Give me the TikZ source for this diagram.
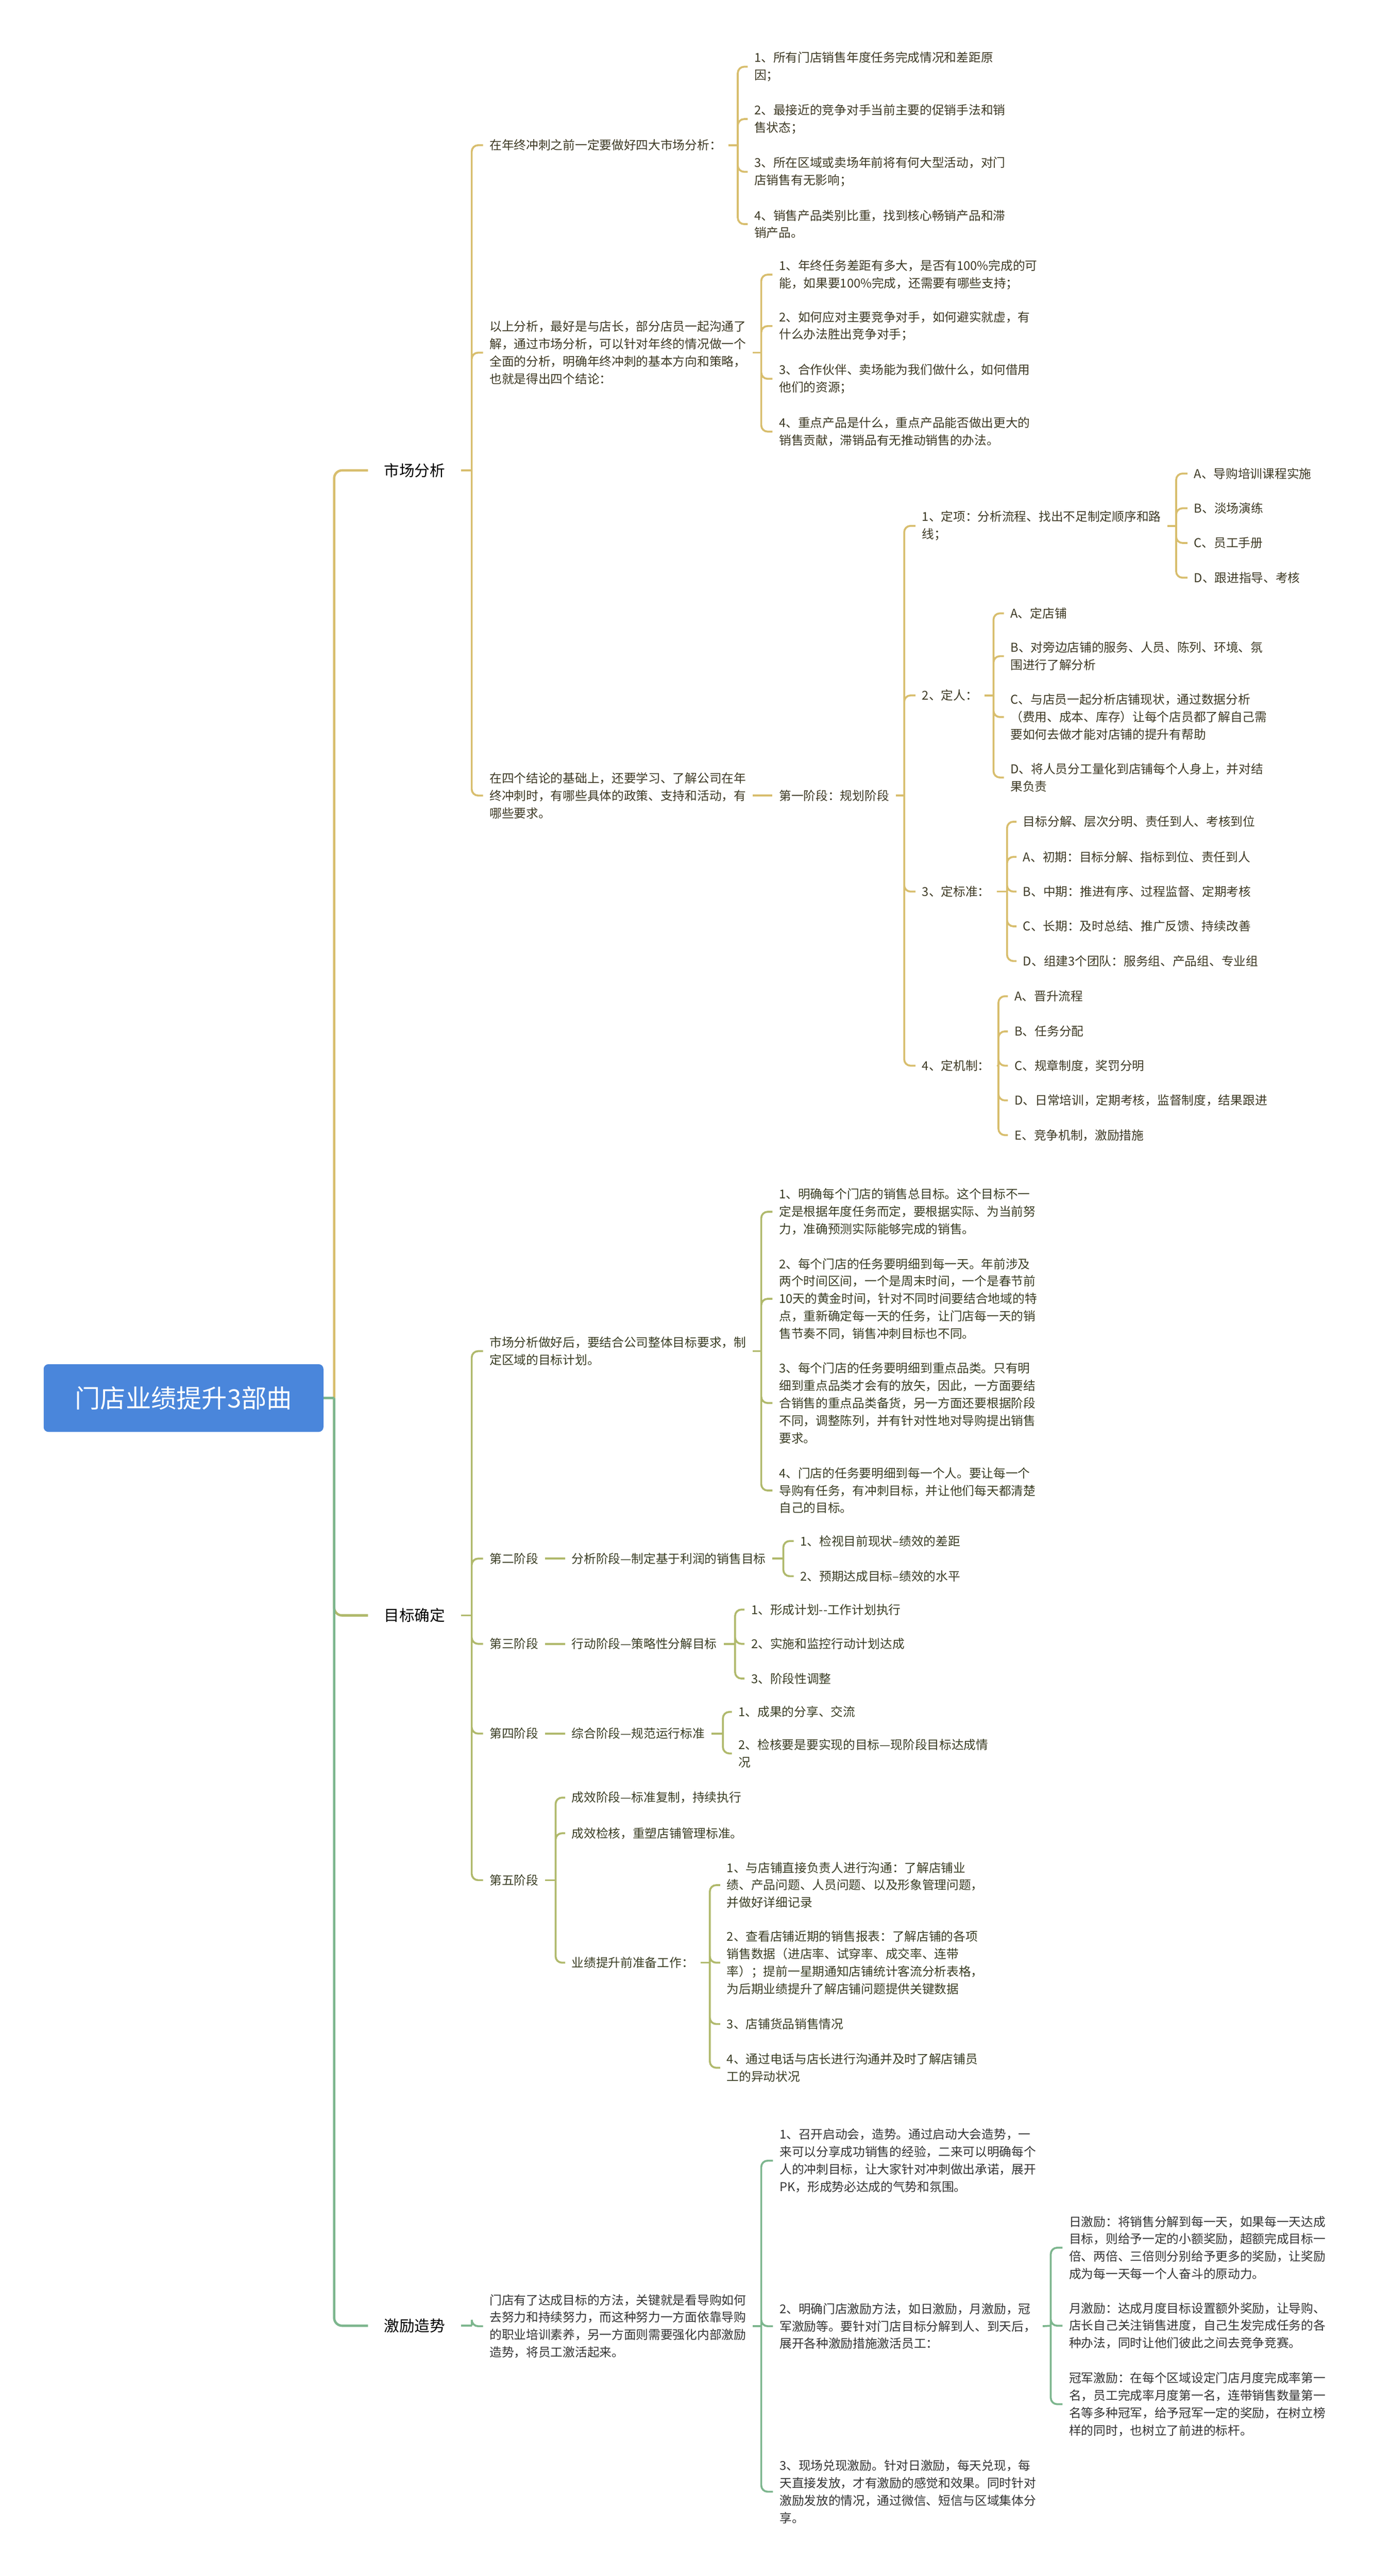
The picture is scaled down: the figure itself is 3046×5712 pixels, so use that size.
\documentclass[tikz,border=0pt]{standalone}
\usepackage{fontspec}
\setmainfont{Noto Sans CJK SC}
\definecolor{rootblue}{HTML}{4A86DB}
\definecolor{cgold}{HTML}{D8BE6E}
\definecolor{colive}{HTML}{B0B96C}
\definecolor{cgreen}{HTML}{7DB68E}
\definecolor{tgold}{HTML}{3D3924}
\definecolor{tolive}{HTML}{3A3D24}
\definecolor{tgreen}{HTML}{333333}
\tikzset{
  rootnode/.style={fill=rootblue, text=white, rounded corners=3pt, minimum width=6.2cm, minimum height=1.5cm, font=\fontsize{16}{19}\selectfont},
  branch/.style={anchor=west, inner xsep=10pt, text=black, font=\fontsize{9.6}{12}\selectfont},
  topic/.style={anchor=west, align=left, inner xsep=4pt, inner ysep=1pt, font=\fontsize{7.7}{11}\selectfont},
  goldtopic/.style={topic, text=tgold},
  olivetopic/.style={topic, text=tolive},
  greentopic/.style={topic, text=tgreen},
  trunkline/.style={line width=1.5pt, rounded corners=5pt},
  goldline/.style={draw=cgold, line width=1.2pt, rounded corners=4pt},
  oliveline/.style={draw=colive, line width=1.2pt, rounded corners=4pt},
  greenline/.style={draw=cgreen, line width=1.2pt, rounded corners=4pt}
}
\begin{document}
\begin{tikzpicture}[x=0.01cm, y=-0.01cm]
\useasboundingbox (0,0) rectangle (3046,5712);
\node[rootnode] (root) at (407,3100) {门店业绩提升3部曲};
\node[branch] (mkt) at (816,1043) {市场分析};
\node[branch] (goal) at (816,3582) {目标确定};
\node[branch] (boost) at (816,5157) {激励造势};
\coordinate (hub) at (741,3100);
\draw[trunkline, cgold] (hub) |- (mkt.west);
\draw[line width=1.5pt, colive] (root.east) -- (hub);
\draw[trunkline, colive] (hub) |- (goal.west);
\draw[line width=1.5pt, cgreen] (root.east) -- (hub);
\draw[trunkline, cgreen] (hub) |- (boost.west);

\node[goldtopic] (m1) at (1071,322) {在年终冲刺之前一定要做好四大市场分析：};
\node[goldtopic] (m1a) at (1658,148) {1、所有门店销售年度任务完成情况和差距原\\因；};
\node[goldtopic] (m1b) at (1658,264) {2、最接近的竞争对手当前主要的促销手法和销\\售状态；};
\node[goldtopic] (m1c) at (1658,381) {3、所在区域或卖场年前将有何大型活动，对门\\店销售有无影响；};
\node[goldtopic] (m1d) at (1658,497) {4、销售产品类别比重，找到核心畅销产品和滞\\销产品。};
\node[goldtopic] (m2) at (1071,782) {以上分析，最好是与店长，部分店员一起沟通了\\解，通过市场分析，可以针对年终的情况做一个\\全面的分析，明确年终冲刺的基本方向和策略，\\也就是得出四个结论：};
\node[goldtopic] (m2a) at (1713,609) {1、年终任务差距有多大，是否有100\%完成的可\\能，如果要100\%完成，还需要有哪些支持；};
\node[goldtopic] (m2b) at (1713,723) {2、如何应对主要竞争对手，如何避实就虚，有\\什么办法胜出竞争对手；};
\node[goldtopic] (m2c) at (1713,840) {3、合作伙伴、卖场能为我们做什么，如何借用\\他们的资源；};
\node[goldtopic] (m2d) at (1713,957) {4、重点产品是什么，重点产品能否做出更大的\\销售贡献，滞销品有无推动销售的办法。};
\node[goldtopic] (m3) at (1071,1764) {在四个结论的基础上，还要学习、了解公司在年\\终冲刺时，有哪些具体的政策、支持和活动，有\\哪些要求。};
\node[goldtopic] (p1) at (1713,1764) {第一阶段：规划阶段};
\node[goldtopic] (s1) at (2030,1166) {1、定项：分析流程、找出不足制定顺序和路\\线；};
\node[goldtopic] (s1a) at (2633,1050) {A、导购培训课程实施};
\node[goldtopic] (s1b) at (2633,1127) {B、淡场演练};
\node[goldtopic] (s1c) at (2633,1204) {C、员工手册};
\node[goldtopic] (s1d) at (2633,1281) {D、跟进指导、考核};
\node[goldtopic] (s2) at (2030,1542) {2、定人：};
\node[goldtopic] (s2a) at (2226,1360) {A、定店铺};
\node[goldtopic] (s2b) at (2226,1455) {B、对旁边店铺的服务、人员、陈列、环境、氛\\围进行了解分析};
\node[goldtopic] (s2c) at (2226,1590) {C、与店员一起分析店铺现状，通过数据分析\\（费用、成本、库存）让每个店员都了解自己需\\要如何去做才能对店铺的提升有帮助};
\node[goldtopic] (s2d) at (2226,1724) {D、将人员分工量化到店铺每个人身上，并对结\\果负责};
\node[goldtopic] (s3) at (2030,1977) {3、定标准：};
\node[goldtopic] (s3a) at (2254,1822) {目标分解、层次分明、责任到人、考核到位};
\node[goldtopic] (s3b) at (2254,1900) {A、初期：目标分解、指标到位、责任到人};
\node[goldtopic] (s3c) at (2254,1977) {B、中期：推进有序、过程监督、定期考核};
\node[goldtopic] (s3d) at (2254,2054) {C、长期：及时总结、推广反馈、持续改善};
\node[goldtopic] (s3e) at (2254,2131) {D、组建3个团队：服务组、产品组、专业组};
\node[goldtopic] (s4) at (2030,2363) {4、定机制：};
\node[goldtopic] (s4a) at (2235,2209) {A、晋升流程};
\node[goldtopic] (s4b) at (2235,2287) {B、任务分配};
\node[goldtopic] (s4c) at (2235,2363) {C、规章制度，奖罚分明};
\node[goldtopic] (s4d) at (2235,2440) {D、日常培训，定期考核，监督制度，结果跟进};
\node[goldtopic] (s4e) at (2235,2517) {E、竞争机制，激励措施};
\coordinate (jmkt) at (1046,1043);
\coordinate (jm1) at (1636,322);
\coordinate (jm2) at (1688,782);
\coordinate (jp1) at (2005,1764);
\coordinate (js1) at (2608,1166);
\coordinate (js2) at (2203,1542);
\coordinate (js3) at (2233,1977);
\coordinate (js4) at (2214,2363);
\draw[goldline] (mkt.east) -- (jmkt);
\draw[goldline] (jmkt) |- (m1.west) (jmkt) |- (m2.west) (jmkt) |- (m3.west);
\draw[goldline] (m1.east) -- (jm1);
\draw[goldline] (jm1) |- (m1a.west) (jm1) |- (m1b.west) (jm1) |- (m1c.west) (jm1) |- (m1d.west);
\draw[goldline] (m2.east) -- (jm2);
\draw[goldline] (jm2) |- (m2a.west) (jm2) |- (m2b.west) (jm2) |- (m2c.west) (jm2) |- (m2d.west);
\draw[goldline] (m3.east) -- (p1.west);
\draw[goldline] (p1.east) -- (jp1);
\draw[goldline] (jp1) |- (s1.west) (jp1) |- (s2.west) (jp1) |- (s3.west) (jp1) |- (s4.west);
\draw[goldline] (s1.east) -- (js1);
\draw[goldline] (js1) |- (s1a.west) (js1) |- (s1b.west) (js1) |- (s1c.west) (js1) |- (s1d.west);
\draw[goldline] (s2.east) -- (js2);
\draw[goldline] (js2) |- (s2a.west) (js2) |- (s2b.west) (js2) |- (s2c.west) (js2) |- (s2d.west);
\draw[goldline] (s3.east) -- (js3);
\draw[goldline] (js3) |- (s3a.west) (js3) |- (s3b.west) (js3) |- (s3c.west) (js3) |- (s3d.west) (js3) |- (s3e.west);
\draw[goldline] (s4.east) -- (js4);
\draw[goldline] (js4) |- (s4a.west) (js4) |- (s4b.west) (js4) |- (s4c.west) (js4) |- (s4d.west) (js4) |- (s4e.west);

\node[olivetopic] (g1) at (1071,2996) {市场分析做好后，要结合公司整体目标要求，制\\定区域的目标计划。};
\node[olivetopic] (g1a) at (1713,2687) {1、明确每个门店的销售总目标。这个目标不一\\定是根据年度任务而定，要根据实际、为当前努\\力，准确预测实际能够完成的销售。};
\node[olivetopic] (g1b) at (1713,2880) {2、每个门店的任务要明细到每一天。年前涉及\\两个时间区间，一个是周末时间，一个是春节前\\10天的黄金时间，针对不同时间要结合地域的特\\点，重新确定每一天的任务，让门店每一天的销\\售节奏不同，销售冲刺目标也不同。};
\node[olivetopic] (g1c) at (1713,3111) {3、每个门店的任务要明细到重点品类。只有明\\细到重点品类才会有的放矢，因此，一方面要结\\合销售的重点品类备货，另一方面还要根据阶段\\不同，调整陈列，并有针对性地对导购提出销售\\要求。};
\node[olivetopic] (g1d) at (1713,3305) {4、门店的任务要明细到每一个人。要让每一个\\导购有任务，有冲刺目标，并让他们每天都清楚\\自己的目标。};
\node[olivetopic] (g2) at (1071,3456) {第二阶段};
\node[olivetopic] (g2x) at (1253,3456) {分析阶段—制定基于利润的销售目标};
\node[olivetopic] (g2a) at (1760,3417) {1、检视目前现状–绩效的差距};
\node[olivetopic] (g2b) at (1760,3495) {2、预期达成目标–绩效的水平};
\node[olivetopic] (g3) at (1071,3645) {第三阶段};
\node[olivetopic] (g3x) at (1253,3645) {行动阶段—策略性分解目标};
\node[olivetopic] (g3a) at (1651,3569) {1、形成计划{-}{-}工作计划执行};
\node[olivetopic] (g3b) at (1651,3645) {2、实施和监控行动计划达成};
\node[olivetopic] (g3c) at (1651,3722) {3、阶段性调整};
\node[olivetopic] (g4) at (1071,3844) {第四阶段};
\node[olivetopic] (g4x) at (1253,3844) {综合阶段—规范运行标准};
\node[olivetopic] (g4a) at (1623,3796) {1、成果的分享、交流};
\node[olivetopic] (g4b) at (1623,3888) {2、检核要是要实现的目标—现阶段目标达成情\\况};
\node[olivetopic] (g5) at (1071,4169) {第五阶段};
\node[olivetopic] (g5a) at (1253,3986) {成效阶段—标准复制，持续执行};
\node[olivetopic] (g5b) at (1253,4065) {成效检核，重塑店铺管理标准。};
\node[olivetopic] (g5c) at (1253,4352) {业绩提升前准备工作：};
\node[olivetopic] (g5c1) at (1597,4180) {1、与店铺直接负责人进行沟通：了解店铺业\\绩、产品问题、人员问题、以及形象管理问题，\\并做好详细记录};
\node[olivetopic] (g5c2) at (1597,4352) {2、查看店铺近期的销售报表：了解店铺的各项\\销售数据（进店率、试穿率、成交率、连带\\率）；提前一星期通知店铺统计客流分析表格，\\为后期业绩提升了解店铺问题提供关键数据};
\node[olivetopic] (g5c3) at (1597,4488) {3、店铺货品销售情况};
\node[olivetopic] (g5c4) at (1597,4585) {4、通过电话与店长进行沟通并及时了解店铺员\\工的异动状况};
\coordinate (jgoal) at (1046,3582);
\coordinate (jg1) at (1688,2996);
\coordinate (jg2) at (1737,3456);
\coordinate (jg3) at (1630,3645);
\coordinate (jg4) at (1603,3844);
\coordinate (jg5) at (1232,4169);
\coordinate (jg5c) at (1574,4352);
\draw[oliveline] (goal.east) -- (jgoal);
\draw[oliveline] (jgoal) |- (g1.west) (jgoal) |- (g2.west) (jgoal) |- (g3.west) (jgoal) |- (g4.west) (jgoal) |- (g5.west);
\draw[oliveline] (g1.east) -- (jg1);
\draw[oliveline] (jg1) |- (g1a.west) (jg1) |- (g1b.west) (jg1) |- (g1c.west) (jg1) |- (g1d.west);
\draw[oliveline] (g2.east) -- (g2x.west);
\draw[oliveline] (g2x.east) -- (jg2);
\draw[oliveline] (jg2) |- (g2a.west) (jg2) |- (g2b.west);
\draw[oliveline] (g3.east) -- (g3x.west);
\draw[oliveline] (g3x.east) -- (jg3);
\draw[oliveline] (jg3) |- (g3a.west) (jg3) |- (g3b.west) (jg3) |- (g3c.west);
\draw[oliveline] (g4.east) -- (g4x.west);
\draw[oliveline] (g4x.east) -- (jg4);
\draw[oliveline] (jg4) |- (g4a.west) (jg4) |- (g4b.west);
\draw[oliveline] (g5.east) -- (jg5);
\draw[oliveline] (jg5) |- (g5a.west) (jg5) |- (g5b.west) (jg5) |- (g5c.west);
\draw[oliveline] (g5c.east) -- (jg5c);
\draw[oliveline] (jg5c) |- (g5c1.west) (jg5c) |- (g5c2.west) (jg5c) |- (g5c3.west) (jg5c) |- (g5c4.west);

\node[greentopic] (k1) at (1071,5158) {门店有了达成目标的方法，关键就是看导购如何\\去努力和持续努力，而这种努力一方面依靠导购\\的职业培训素养，另一方面则需要强化内部激励\\造势，将员工激活起来。};
\node[greentopic] (k1a) at (1714,4791) {1、召开启动会，造势。通过启动大会造势，一\\来可以分享成功销售的经验，二来可以明确每个\\人的冲刺目标，让大家针对冲刺做出承诺，展开\\PK，形成势必达成的气势和氛围。};
\node[greentopic] (k1b) at (1714,5158) {2、明确门店激励方法，如日激励，月激励，冠\\军激励等。要针对门店目标分解到人、到天后，\\展开各种激励措施激活员工：};
\node[greentopic] (k1b1) at (2356,4984) {日激励：将销售分解到每一天，如果每一天达成\\目标，则给予一定的小额奖励，超额完成目标一\\倍、两倍、三倍则分别给予更多的奖励，让奖励\\成为每一天每一个人奋斗的原动力。};
\node[greentopic] (k1b2) at (2356,5157) {月激励：达成月度目标设置额外奖励，让导购、\\店长自己关注销售进度，自己生发完成任务的各\\种办法，同时让他们彼此之间去竞争竞赛。};
\node[greentopic] (k1b3) at (2356,5331) {冠军激励：在每个区域设定门店月度完成率第一\\名，员工完成率月度第一名，连带销售数量第一\\名等多种冠军，给予冠军一定的奖励，在树立榜\\样的同时，也树立了前进的标杆。};
\node[greentopic] (k1c) at (1714,5525) {3、现场兑现激励。针对日激励，每天兑现，每\\天直接发放，才有激励的感觉和效果。同时针对\\激励发放的情况，通过微信、短信与区域集体分\\享。};
\coordinate (jboost) at (1046,5157);
\coordinate (jk1) at (1688,5158);
\coordinate (jk1b) at (2330,5157);
\draw[greenline] (boost.east) -- (jboost);
\draw[greenline] (jboost) |- (k1.west);
\draw[greenline] (k1.east) -- (jk1);
\draw[greenline] (jk1) |- (k1a.west) (jk1) |- (k1b.west) (jk1) |- (k1c.west);
\draw[greenline] (k1b.east) -- (jk1b);
\draw[greenline] (jk1b) |- (k1b1.west) (jk1b) |- (k1b2.west) (jk1b) |- (k1b3.west);
\end{tikzpicture}
\end{document}
